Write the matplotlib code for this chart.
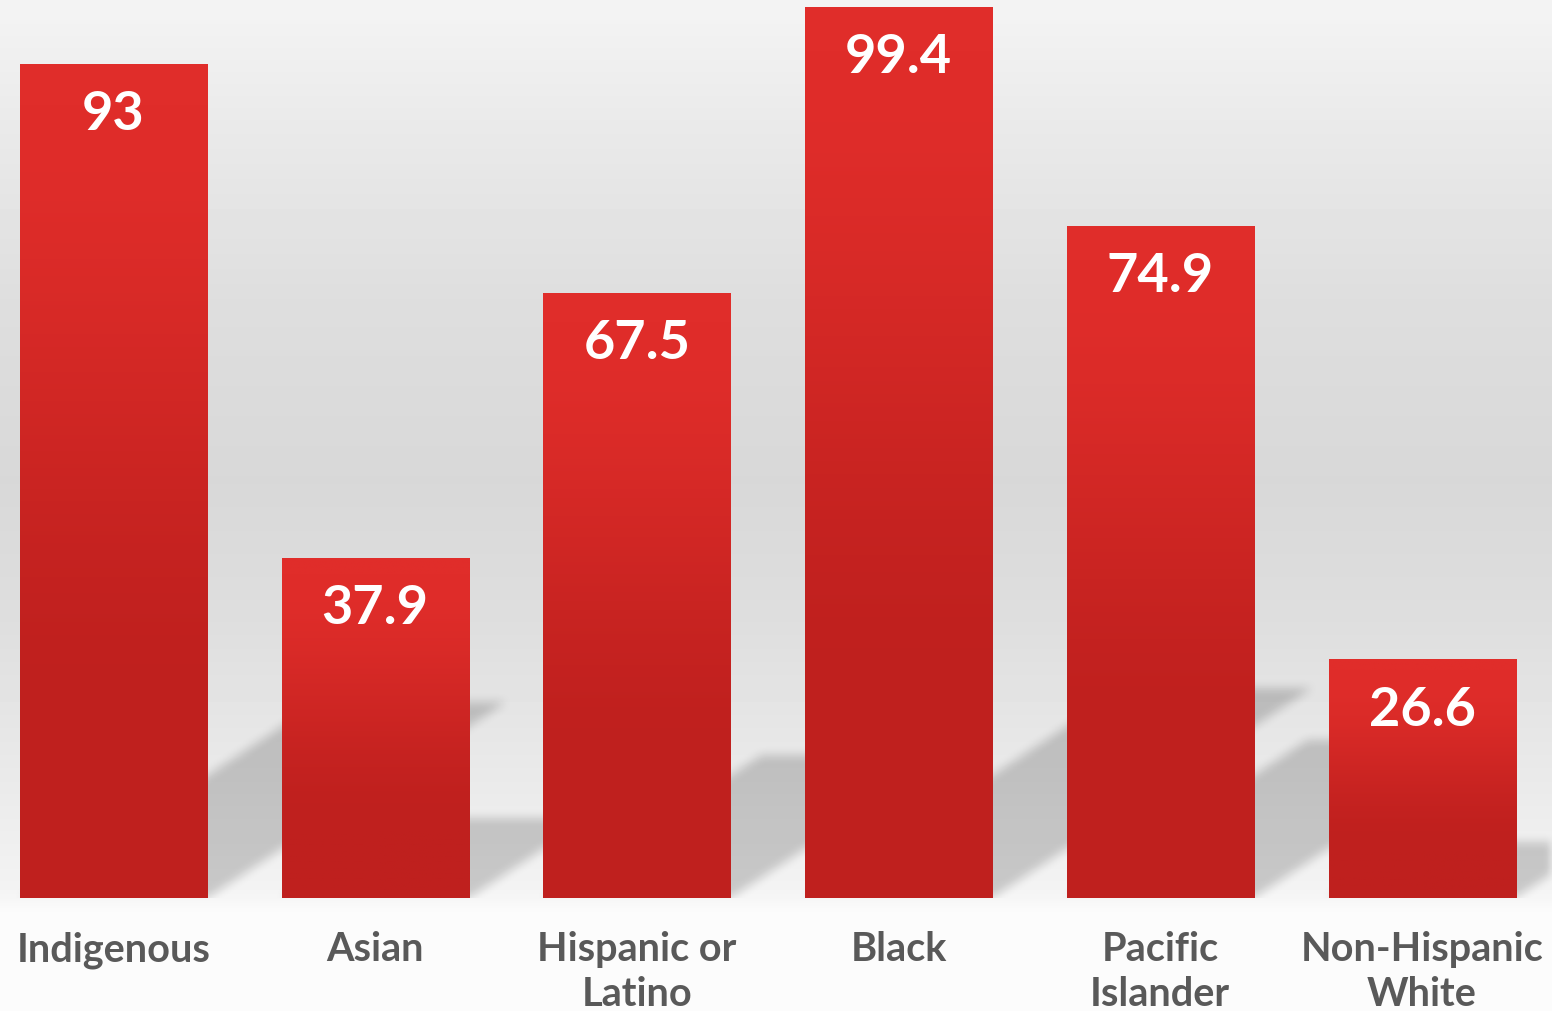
import matplotlib.pyplot as plt
import numpy as np

categories = ["Indigenous", "Asian", "Hispanic or\nLatino", "Black", "Pacific\nIslander", "Non-Hispanic\nWhite"]
values = [93, 37.9, 67.5, 99.4, 74.9, 26.6]

W, H = 1552, 1011
fig = plt.figure(figsize=(W / 100, H / 100), dpi=100)
ax = fig.add_axes([0, 0, 1, 1])
xlim = (-0.4337, 5.4967)
ylim = (-12.6, 100.13)

# background: vertical gray gradient
rows = np.arange(H)
shade = np.interp(rows, [0, 120, 300, 480, 620, 780, 880, 898, 910, 1011],
                  [244, 234, 222, 216, 222, 234, 242, 246, 251, 252]) / 255
bg = np.repeat(shade[:, None], 2, axis=1)
ax.imshow(bg, cmap="gray", vmin=0, vmax=1, extent=(*xlim, *ylim), aspect="auto", zorder=0)

# soft cast shadows going up-right from each bar
x = np.arange(len(values))
width = 0.7146
gx = np.linspace(xlim[0], xlim[1], W)
gy = np.linspace(ylim[1], ylim[0], H)
XX, YY = np.meshgrid(gx, gy)
mask = np.zeros((H, W))
for xi, v in zip(x, values):
    dx, dy = 0.0123 * v, 0.235 * v
    t = YY / dy
    inside = (YY >= 0) & (YY <= dy) & (XX >= xi - width / 2 + t * dx) & (XX <= xi + width / 2 + t * dx)
    mask[inside] = 1


def blur(a, r):
    k = np.ones(2 * r + 1) / (2 * r + 1)
    a = np.apply_along_axis(lambda m: np.convolve(m, k, mode="same"), 0, a)
    a = np.apply_along_axis(lambda m: np.convolve(m, k, mode="same"), 1, a)
    return a


mask = blur(blur(mask, 5), 5)
mask[gy < 0, :] = 0
shadow = np.zeros((H, W, 4))
shadow[..., 3] = mask * 0.18
ax.imshow(shadow, extent=(*xlim, *ylim), aspect="auto", zorder=1)

bars = ax.bar(x, values, width=width, color="#c9231f", zorder=2)

# red gradient on each bar, bright on top
top = np.array([0xe0, 0x2d, 0x2a]) / 255
bottom = np.array([0xbf, 0x20, 0x1e]) / 255
tt = np.linspace(0, 1, 200)
s = np.clip((tt - 0.05) / 0.75, 0, 1)
s = s * s * (3 - 2 * s)
grad = (top[None, :] * (1 - s[:, None]) + bottom[None, :] * s[:, None])[:, None, :]
for b in bars:
    im = ax.imshow(grad, extent=(b.get_x(), b.get_x() + b.get_width(), 0, b.get_height()),
                   aspect="auto", zorder=3)
    im.set_clip_path(b)

for xi, v in zip(x, values):
    ax.annotate(f"{v:g}", (xi, v), xytext=(0, -36.5), textcoords="offset points",
                ha="center", va="center", color="white", fontsize=39,
                fontweight="bold", family="Lato", zorder=5)

for xi, c in zip(x, categories):
    ax.annotate(c, (xi, 0), xytext=(0, -24), textcoords="offset points",
                ha="center", va="top", color="#595959", fontsize=28.5,
                fontweight="bold", family="Lato", linespacing=1.27, zorder=5)

ax.set_xlim(*xlim)
ax.set_ylim(*ylim)
ax.axis("off")
fig.savefig("out.png", dpi=100)
